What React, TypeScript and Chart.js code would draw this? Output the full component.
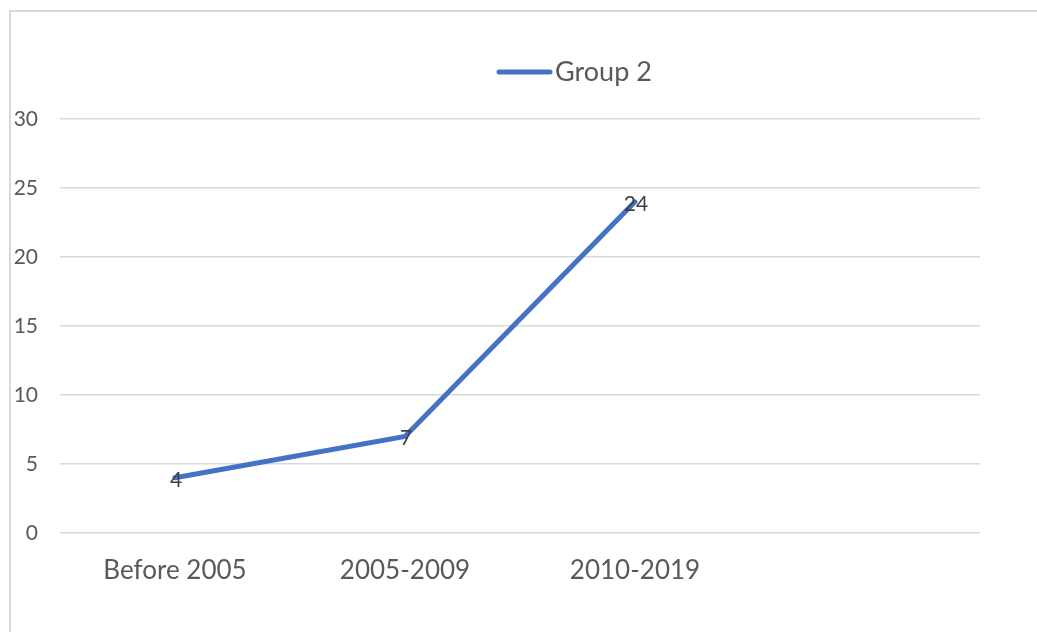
import React, { useEffect, useRef } from "react";
import { Chart, registerables } from "chart.js";

Chart.register(...registerables);

const categories = ["Before 2005", "2005-2009", "2010-2019", ""];
const group2Values = [4, 7, 24, null];
const seriesName = "Group 2";
const yTicks = { min: 0, max: 30, step: 5 };

const TEXT = "#595959";
const GRID = "#d9d9d9";
const LINE = "#4472C4";
const FONT = "Lato, 'Open Sans', sans-serif";

// Draws the value of each point centred on the point itself.
const pointLabels = {
  id: "pointLabels",
  afterDatasetsDraw(chart: any) {
    const { ctx } = chart;
    chart.data.datasets.forEach((ds: any, i: number) => {
      const meta = chart.getDatasetMeta(i);
      meta.data.forEach((el: any, j: number) => {
        const v = ds.data[j];
        if (v == null) return;
        ctx.save();
        ctx.font = `21px ${FONT}`;
        ctx.fillStyle = "#404040";
        ctx.textAlign = "center";
        ctx.textBaseline = "middle";
        ctx.fillText(String(v), el.x + 1, el.y + 2);
        ctx.restore();
      });
    });
  },
};

// Single-entry legend with a thick line sample, placed above the plot.
const lineLegend = {
  id: "lineLegend",
  afterDraw(chart: any) {
    const { ctx, chartArea } = chart;
    const ds = chart.data.datasets[0];
    const x0 = chartArea.left + 439;
    const y = chartArea.top - 47;
    ctx.save();
    ctx.strokeStyle = ds.borderColor;
    ctx.lineWidth = 5;
    ctx.lineCap = "round";
    ctx.beginPath();
    ctx.moveTo(x0, y);
    ctx.lineTo(x0 + 51, y);
    ctx.stroke();
    ctx.font = `27px ${FONT}`;
    ctx.fillStyle = TEXT;
    ctx.textAlign = "left";
    ctx.textBaseline = "middle";
    ctx.fillText(ds.label, x0 + 56, y);
    ctx.restore();
  },
};

export default function App() {
  const ref = useRef<HTMLCanvasElement | null>(null);

  useEffect(() => {
    if (!ref.current) return;
    const chart = new Chart(ref.current, {
      type: "line",
      data: {
        labels: categories,
        datasets: [
          {
            label: seriesName,
            data: group2Values,
            borderColor: LINE,
            backgroundColor: LINE,
            borderWidth: 5,
            pointRadius: 0,
            pointHoverRadius: 0,
            tension: 0,
            borderCapStyle: "round",
          },
        ],
      },
      options: {
        animation: false,
        responsive: false,
        maintainAspectRatio: false,
        layout: { padding: { top: 119, right: 57, left: 0, bottom: 0 } },
        plugins: {
          legend: { display: false },
          tooltip: { enabled: false },
        },
        scales: {
          x: {
            offset: true,
            grid: { display: false, drawTicks: false },
            border: { display: false },
            ticks: {
              color: TEXT,
              font: { family: FONT, size: 26 },
              padding: 22,
              maxRotation: 0,
              autoSkip: false,
            },
            afterFit(scale: any) {
              scale.height = 99;
            },
          },
          y: {
            min: yTicks.min,
            max: yTicks.max,
            grid: { color: GRID, lineWidth: 1.5, drawTicks: false },
            border: { display: false },
            ticks: {
              stepSize: yTicks.step,
              color: TEXT,
              font: { family: FONT, size: 21 },
              padding: 22,
            },
            afterFit(scale: any) {
              scale.width = 60;
            },
          },
        },
      },
      plugins: [pointLabels, lineLegend],
    });
    return () => chart.destroy();
  }, []);

  return (
    <div
      style={{
        position: "fixed",
        left: 0,
        top: 0,
        width: 1037,
        height: 632,
        overflow: "hidden",
        background: "#fff",
      }}
    >
      <div
        style={{
          position: "absolute",
          left: 9,
          top: 10,
          width: 1060,
          height: 660,
          border: `2px solid ${GRID}`,
        }}
      />
      <canvas
        ref={ref}
        width={1037}
        height={632}
        style={{ position: "absolute", left: 0, top: 0 }}
      />
    </div>
  );
}
